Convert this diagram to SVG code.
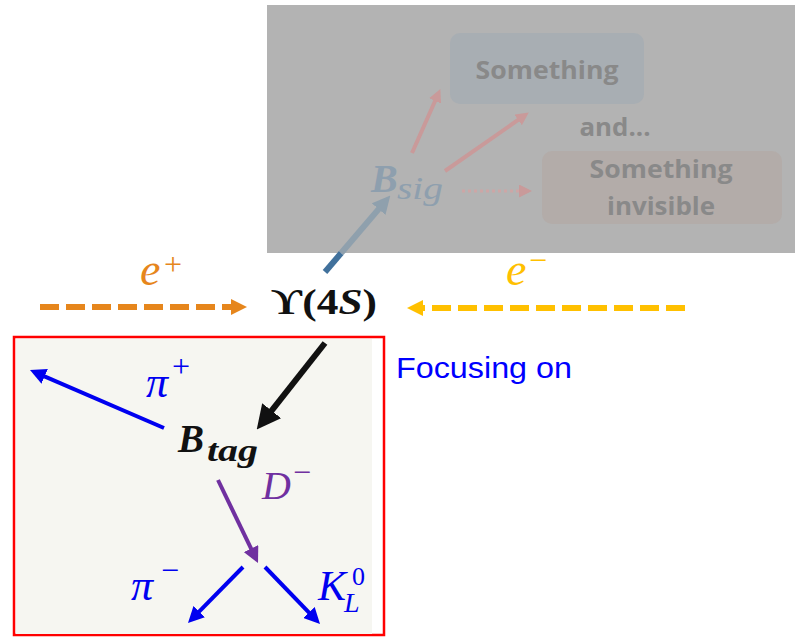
<svg xmlns="http://www.w3.org/2000/svg" width="795" height="637" viewBox="0 0 795 637">
<style>
.math{font-family:"Liberation Serif","DejaVu Serif",serif;font-style:italic}
.up{font-family:"Liberation Serif","DejaVu Serif",serif}
.ghost{font-family:"Open Sans","Liberation Sans",sans-serif;font-weight:bold;fill:#898989;font-size:25px;text-anchor:middle}
.ln{fill:none;stroke-linecap:butt}
</style>
<defs>
<marker id="hOrange" markerUnits="userSpaceOnUse" markerWidth="16" markerHeight="16" refX="4" refY="8" orient="auto"><path d="M0,0 L16,8 L0,16 z" fill="#E6861C"/></marker>
<marker id="hYellow" markerUnits="userSpaceOnUse" markerWidth="16" markerHeight="16" refX="4" refY="8" orient="auto"><path d="M0,0 L16,8 L0,16 z" fill="#FFC000"/></marker>
<marker id="hBlue" markerUnits="userSpaceOnUse" markerWidth="16" markerHeight="16" refX="4" refY="8" orient="auto"><path d="M0,0 L16,8 L0,16 z" fill="#0000F0"/></marker>
<marker id="hPurple" markerUnits="userSpaceOnUse" markerWidth="16" markerHeight="16" refX="4" refY="8" orient="auto"><path d="M0,0 L16,8 L0,16 z" fill="#7030A0"/></marker>
<marker id="hBlack" markerUnits="userSpaceOnUse" markerWidth="24" markerHeight="24" refX="6" refY="12" orient="auto"><path d="M0,0 L24,12 L0,24 z" fill="#111"/></marker>
<marker id="hGreyBlue" markerUnits="userSpaceOnUse" markerWidth="18" markerHeight="18" refX="4" refY="9" orient="auto"><path d="M0,0 L18,9 L0,18 z" fill="#8FA0AD"/></marker>
<marker id="hRed" markerUnits="userSpaceOnUse" markerWidth="13" markerHeight="13" refX="3" refY="6.5" orient="auto"><path d="M0,0 L13,6.5 L0,13 z" fill="#C99A9A"/></marker>
</defs>

<!-- greyed-out signal side -->
<rect x="267" y="5" width="528" height="248" fill="#B3B3B3"/>
<g id="something">
<rect x="450" y="33" width="194" height="71" rx="10" fill="#A8AEB3"/>
<text class="ghost" x="547" y="79" textLength="143" lengthAdjust="spacingAndGlyphs">Something</text>
</g>
<g id="and">
<text class="ghost" x="615" y="136" textLength="71" lengthAdjust="spacingAndGlyphs">and...</text>
</g>
<g id="invisible">
<rect x="542" y="151" width="240" height="73" rx="10" fill="#B3ACA9"/>
<text class="ghost" x="661" y="178" textLength="143" lengthAdjust="spacingAndGlyphs">Something</text>
<text class="ghost" x="661" y="215" textLength="108" lengthAdjust="spacingAndGlyphs">invisible</text>
</g>
<g id="bsig">
<text class="math" x="371" y="192" font-size="40" font-weight="bold" fill="#8E9FAE">B</text>
<text class="math" x="397" y="199" font-size="31" fill="#8E9FAE" textLength="46" lengthAdjust="spacingAndGlyphs">sig</text>
</g>

<!-- tag side box -->
<g id="tagbox">
<rect x="14" y="337" width="370" height="298" fill="#FFFFFF" stroke="#FF0000" stroke-width="2.5"/>
<rect x="16" y="339" width="356" height="295" fill="#F6F6F1"/>
</g>

<g id="connectors">
<line class="ln" x1="40" y1="307" x2="235" y2="307" stroke="#E6861C" stroke-width="6" stroke-dasharray="19 7" marker-end="url(#hOrange)"/>
<line class="ln" x1="685" y1="308" x2="419" y2="308" stroke="#FFC000" stroke-width="6" stroke-dasharray="19 7" marker-end="url(#hYellow)"/>
<line class="ln" x1="325" y1="272" x2="341.2" y2="253" stroke="#41719C" stroke-width="6"/>
<line class="ln" x1="341.2" y1="253" x2="381.2" y2="206.1" stroke="#8FA0AD" stroke-width="6" marker-end="url(#hGreyBlue)"/>
<line class="ln" x1="412" y1="153" x2="436.3" y2="98.2" stroke="#C99A9A" stroke-width="4" marker-end="url(#hRed)"/>
<line class="ln" x1="445" y1="171" x2="520.6" y2="118.2" stroke="#C99A9A" stroke-width="4" marker-end="url(#hRed)"/>
<line class="ln" x1="462" y1="191" x2="522" y2="191" stroke="#CDA6A6" stroke-width="3" stroke-dasharray="3 3" marker-end="url(#hRed)"/>
<line class="ln" x1="325" y1="343" x2="267.9" y2="415.4" stroke="#111" stroke-width="6" marker-end="url(#hBlack)"/>
<line class="ln" x1="164" y1="428" x2="41" y2="374.8" stroke="#0000F0" stroke-width="4" marker-end="url(#hBlue)"/>
<line class="ln" x1="218" y1="480" x2="252.8" y2="552.2" stroke="#7030A0" stroke-width="4" marker-end="url(#hPurple)"/>
<line class="ln" x1="243" y1="567" x2="196.4" y2="614.4" stroke="#0000F0" stroke-width="4" marker-end="url(#hBlue)"/>
<line class="ln" x1="265" y1="567" x2="311.7" y2="615.4" stroke="#0000F0" stroke-width="4" marker-end="url(#hBlue)"/>
</g>

<g id="eplus" fill="#E6861C">
<text class="math" x="140" y="285" font-size="46">e</text>
<text class="up" x="164" y="275" font-size="32">+</text>
</g>
<g id="eminus" fill="#FFC000">
<text class="math" x="506" y="285" font-size="46">e</text>
<text class="up" x="529" y="271" font-size="32">−</text>
</g>
<g id="upsilon">
<text x="271" y="314" font-family="Liberation Serif,DejaVu Serif,serif" font-weight="bold" font-size="35" fill="#111" textLength="106" lengthAdjust="spacingAndGlyphs">ϒ(4<tspan font-style="italic">S</tspan>)</text>
</g>
<g id="focus">
<text x="396" y="378" font-family="Liberation Sans,Arial,sans-serif" font-size="30" fill="#0000FF" textLength="176" lengthAdjust="spacingAndGlyphs">Focusing on</text>
</g>
<g id="btag" fill="#111">
<text class="math" x="178" y="452" font-size="39" font-weight="bold">B</text>
<text class="math" x="207" y="461" font-size="32" font-weight="bold" textLength="51" lengthAdjust="spacingAndGlyphs">tag</text>
</g>
<g id="piplus" fill="#0000F0">
<text class="math" x="146" y="397" font-size="44">π</text>
<text class="up" x="172" y="377" font-size="32">+</text>
</g>
<g id="dminus" fill="#7030A0">
<text class="math" x="262" y="499" font-size="40">D</text>
<text class="up" x="293" y="483" font-size="32">−</text>
</g>
<g id="piminus" fill="#0000F0">
<text class="math" x="131" y="600" font-size="44">π</text>
<text class="up" x="161" y="581" font-size="32">−</text>
</g>
<g id="kl0" fill="#0000F0">
<text class="math" x="318" y="600" font-size="42">K</text>
<text class="up" x="352" y="585" font-size="26">0</text>
<text class="math" x="344" y="612" font-size="28">L</text>
</g>
</svg>
